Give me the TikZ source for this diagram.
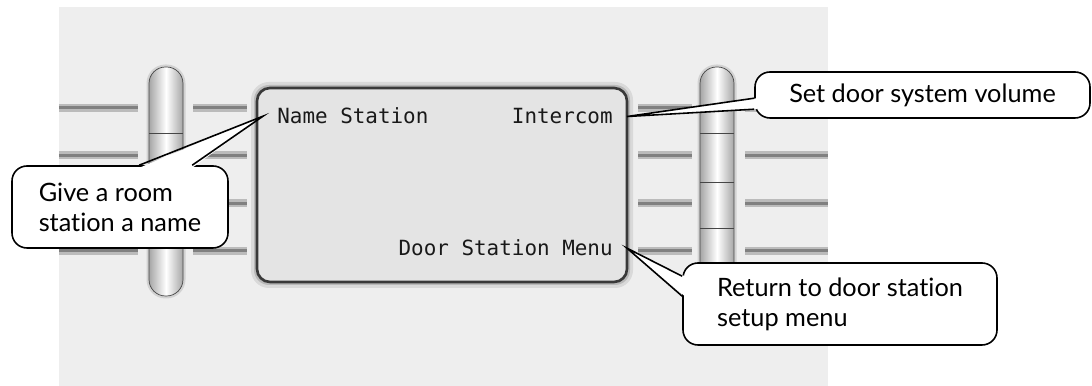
\documentclass[tikz,border=0pt]{standalone}
\usepackage{fontspec}
\newfontfamily\calloutfont[Ligatures=NoCommon]{Lato}
\newfontfamily\lcdfont{DejaVu Sans Mono}
\definecolor{panelbg}{HTML}{EEEEEE}
\definecolor{screenfill}{HTML}{E4E4E4}
\definecolor{barcore}{HTML}{808080}
\definecolor{barhalo}{HTML}{BBBBBB}

\tikzset{
  screentext/.style={font=\lcdfont\fontsize{11.9}{14}\selectfont, text=black!90, inner xsep=0.28cm, inner ysep=0pt},
  callout/.style={draw, fill=white, line width=0.9pt, rounded corners=0.3cm, font=\calloutfont\fontsize{14.4}{17}\selectfont},
  bar/.style={draw=barhalo, double=barcore, double distance=0.06cm, line width=0.05cm},
}

\begin{document}
\begin{tikzpicture}
    \useasboundingbox (0,0) rectangle (21.84,-7.72);
    \fill[panelbg] (1.18,-0.14) rectangle (16.56,-7.72);

    % button rails
    \foreach \y in {-2.16,-3.11,-4.07,-5.02} {
      \draw[bar] (1.18,\y) -- (2.76,\y);
      \draw[bar] (3.86,\y) -- (4.94,\y);
      \draw[bar] (12.76,\y) -- (13.84,\y);
      \draw[bar] (14.90,\y) -- (16.56,\y);
    }

    % soft keys
    \foreach \x in {3.32,14.34} {
      \fill[gray!35, rounded corners=0.38cm] (\x-0.39,-1.29) rectangle (\x+0.39,-5.97);
      \shadedraw[draw=gray!55!black, left color=gray!70, right color=gray!70, middle color=white, rounded corners=0.33cm] (\x-0.34,-1.34) rectangle (\x+0.34,-5.92);
      \foreach \d in {-2.66,-3.64,-4.56}
        \draw[gray!55!black] (\x-0.34,\d) -- (\x+0.34,\d);
    }

    % display
    \fill[gray!30, rounded corners=0.36cm] (5.02,-1.64) rectangle (12.66,-5.76);
    \fill[gray!55, rounded corners=0.3cm] (5.08,-1.70) rectangle (12.60,-5.70);
    \draw[fill=screenfill, draw=gray!45!black, line width=1.5pt, rounded corners=0.26cm] (5.14,-1.76) rectangle (12.54,-5.64);

    \node[screentext, anchor=base west] (name) at (5.26,-2.48) {Name Station};
    \node[screentext, anchor=base east] (intercom) at (12.54,-2.48) {Intercom};
    \node[screentext, anchor=base east] (doormenu) at (12.54,-5.12) {Door Station Menu};

    % callouts
    \node[callout, minimum width=4.32cm, minimum height=1.64cm, align=left] (namenote) at (2.4,-4.14) {Give a room\\station a name};
    \node[callout, minimum width=6.7cm, minimum height=0.92cm] (volumenote) at (18.45,-1.9) {Set door system volume};
    \node[callout, minimum width=6.28cm, minimum height=1.64cm, align=left] (setupnote) at (16.8,-6.08) {Return to door station\\setup menu};

    \fill[white] ([xshift=2.56cm,yshift=-1.5pt]namenote.north west) -- (name.west) -- ([xshift=3.62cm,yshift=-1.5pt]namenote.north west) -- cycle;
    \draw[line width=0.9pt] ([xshift=2.56cm]namenote.north west) -- (name.west) -- ([xshift=3.62cm]namenote.north west);

    \fill[white] ([xshift=1.5pt,yshift=-0.54cm]volumenote.north west) -- (intercom.east) -- ([xshift=1.5pt,yshift=-0.76cm]volumenote.north west) -- cycle;
    \draw[line width=0.9pt] ([yshift=-0.54cm]volumenote.north west) -- (intercom.east) -- ([yshift=-0.76cm]volumenote.north west);

    \fill[white] ([xshift=1.5pt,yshift=-0.28cm]setupnote.north west) -- (doormenu.east) -- ([xshift=1.5pt,yshift=-0.68cm]setupnote.north west) -- cycle;
    \draw[line width=0.9pt] ([yshift=-0.28cm]setupnote.north west) -- (doormenu.east) -- ([yshift=-0.68cm]setupnote.north west);
\end{tikzpicture}
\end{document}
